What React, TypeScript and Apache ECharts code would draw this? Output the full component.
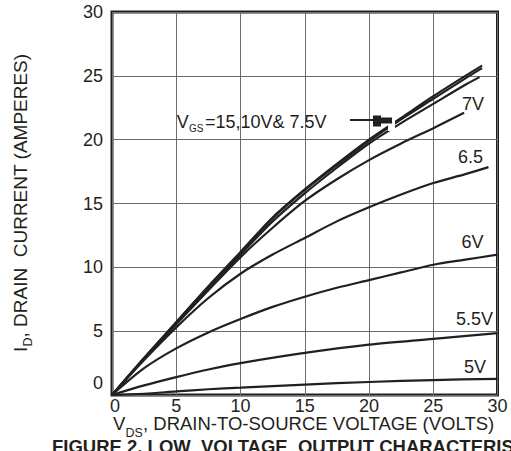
import React, { useEffect, useRef } from "react";
import * as echarts from "echarts";

// Drain-to-source voltage (V) / drain current (A) pairs for each gate voltage
const vgs15: number[][] = [[0,0],[2.5,2.9],[5,5.7],[7.5,8.5],[10,11.2],[12.5,13.9],[15,16.1],[17.5,18.1],[20,20.0],[22.5,21.7],[25,23.4],[27.5,25.0],[28.8,25.8]];
const vgs10: number[][] = [[0,0],[2.5,2.9],[5,5.7],[7.5,8.5],[10,11.15],[12.5,13.85],[15,16.05],[17.5,18.0],[20,19.9],[22.5,21.6],[25,23.2],[27.5,24.8],[28.8,25.6]];
const vgs7_5: number[][] = [[0,0],[2.5,2.85],[5,5.6],[7.5,8.4],[10,11.0],[12.5,13.6],[15,15.8],[17.5,17.8],[20,19.7],[22.5,21.3],[25,22.8],[27.5,24.3],[28.6,24.9]];
const vgs7: number[][] = [[0,0],[2.5,2.85],[5,5.55],[7.5,8.2],[10,10.8],[12.5,13.1],[15,15.2],[17.5,16.9],[20,18.4],[22.5,19.7],[25,20.9],[27.4,22.1]];
const vgs6_5: number[][] = [[0,0],[2.5,2.75],[5,5.3],[7.5,7.6],[10,9.5],[12.5,11.0],[15,12.3],[17.5,13.6],[20,14.7],[22.5,15.7],[25,16.6],[27.5,17.3],[29.3,17.85]];
const vgs6: number[][] = [[0,0],[2.5,2.1],[5,3.65],[7.5,4.9],[10,5.95],[12.5,6.9],[15,7.7],[17.5,8.4],[20,9.0],[22.5,9.6],[25,10.2],[27.5,10.6],[30,11.0]];
const vgs5_5: number[][] = [[0,0],[2.5,0.75],[5,1.4],[7.5,2.0],[10,2.5],[15,3.3],[20,3.95],[25,4.4],[30,4.85]];
const vgs5: number[][] = [[0,0],[2.5,0.1],[5,0.28],[7.5,0.45],[10,0.57],[15,0.82],[20,1.02],[25,1.17],[30,1.27]];

const seriesNames = ["15V", "10V", "7.5V", "7V", "6.5V", "6V", "5.5V", "5V"];
const seriesData = [vgs15, vgs10, vgs7_5, vgs7, vgs6_5, vgs6, vgs5_5, vgs5];

const curveLabels = ["7V", "6.5", "6V", "5.5V", "5V"];

const xMin = 0, xMax = 30, xStep = 5;
const yMin = 0, yMax = 30, yStep = 5;

const INK = "#231f20";
const FONT = "'Liberation Sans', Arial, Helvetica, sans-serif";

export default function App() {
  const ref = useRef<HTMLDivElement>(null);
  useEffect(() => {
    if (!ref.current) return;
    const chart = echarts.init(ref.current, undefined, { renderer: "svg" });
    const labelPos = [
      [473, 104],
      [470.5, 156.5],
      [472.5, 241.5],
      [474.5, 319],
      [475, 367],
    ];
    const txt = (text: string, x: number, y: number, size: number, extra: any = {}) => ({
      type: "text",
      x,
      y,
      z: 110,
      style: {
        text,
        fontSize: size,
        lineHeight: Math.round(size * 0.8),
        fontFamily: FONT,
        fill: INK,
        align: "left",
        verticalAlign: "middle",
        ...(extra.style || {}),
      },
      ...(extra.el || {}),
    });
    const option: any = {
      animation: false,
      backgroundColor: "#ffffff",
      grid: {
        left: 112,
        top: 12,
        width: 385.5,
        height: 383,
        show: true,
        borderColor: INK,
        borderWidth: 3,
        backgroundColor: "transparent",
      },
      xAxis: {
        type: "value",
        min: xMin,
        max: xMax,
        interval: xStep,
        axisLine: { show: false },
        axisTick: { show: false },
        splitLine: { show: true, lineStyle: { color: "#6d6d6d", width: 1 } },
        axisLabel: {
          margin: 4,
          fontSize: 18,
          lineHeight: 14,
          fontFamily: FONT,
          color: INK,
          formatter: (v: number) => (v === 0 ? "{z|0}" : String(v)),
          rich: { z: { fontSize: 18, lineHeight: 14, fontFamily: FONT, color: INK, padding: [0, 0, 0, 6] } },
        },
      },
      yAxis: {
        type: "value",
        min: yMin,
        max: yMax,
        interval: yStep,
        axisLine: { show: false },
        axisTick: { show: false },
        splitLine: { show: true, lineStyle: { color: "#6d6d6d", width: 1 } },
        axisLabel: {
          margin: 9,
          fontSize: 18,
          fontFamily: FONT,
          color: INK,
          formatter: (v: number) => (v === 0 ? "{z|0}" : String(v)),
          rich: { z: { fontSize: 18, fontFamily: FONT, color: INK, padding: [0, 0, 24, 0] } },
        },
      },
      series: seriesData.map((d, i) => ({
        name: seriesNames[i],
        type: "line",
        data: d,
        showSymbol: false,
        smooth: 0.3,
        lineStyle: { color: INK, width: 2.2 },
        z: 3,
      })),
      graphic: [
        // mask around arrow tip
        { type: "rect", z: 105, shape: { x: 388, y: 110, width: 7, height: 21 }, style: { fill: "#ffffff" } },
        // arrow
        { type: "line", z: 110, shape: { x1: 350, y1: 120, x2: 374, y2: 120 }, style: { stroke: INK, lineWidth: 2 } },
        {
          type: "polygon",
          z: 110,
          shape: { points: [[373, 115.5], [381, 115.5], [381, 117.5], [392, 117.5], [392, 123.5], [381, 123.5], [381, 126.5], [373, 126.5]] },
          style: { fill: INK },
        },
        txt("V", 176.7, 122, 18),
        txt("GS", 189, 128.5, 10),
        txt("=15,10V& 7.5V", 205, 122, 18),
        ...curveLabels.map((t, i) => ({
          type: "text",
          x: labelPos[i][0],
          y: labelPos[i][1],
          z: 110,
          style: { text: t, fontSize: 18, fontFamily: FONT, fill: INK, align: "center", verticalAlign: "middle" },
        })),
        // x axis title
        txt("V", 113, 423, 18.5),
        txt("DS", 125.5, 433, 12.5),
        txt(", DRAIN-TO-SOURCE VOLTAGE (VOLTS)", 143, 423, 18.5),
        // y axis title (rotated)
        txt("I", 20.5, 352, 19, { el: { rotation: Math.PI / 2 } }),
        txt("D", 28, 346.5, 12.5, { el: { rotation: Math.PI / 2 } }),
        txt(", DRAIN  CURRENT (AMPERES)", 20.5, 337.5, 19, { el: { rotation: Math.PI / 2 } }),
        // caption
        txt("FIGURE 2. LOW  VOLTAGE  OUTPUT CHARACTERISTICS", 52, 446.5, 18.5, { style: { fontWeight: "bold" } }),
      ],
    };
    chart.setOption(option);
    return () => chart.dispose();
  }, []);
  return <div ref={ref} style={{ width: 511, height: 451, position: "absolute", left: 0, top: 0 }} />;
}
